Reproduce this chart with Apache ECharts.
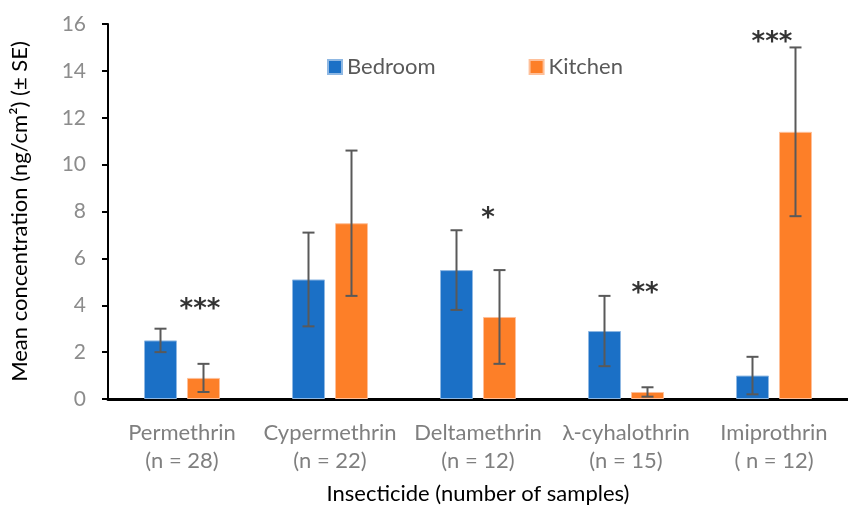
<!DOCTYPE html>
<html>
<head>
<meta charset="utf-8">
<script src="https://cdn.jsdelivr.net/npm/echarts@6/dist/echarts.min.js"></script>
<style>
  html, body { margin: 0; padding: 0; background: #fff; }
  #chart { width: 848px; height: 506px; }
</style>
</head>
<body>
<div id="chart"></div>
<script>
// data
const categories = ['Permethrin\n(n = 28)', 'Cypermethrin\n(n = 22)', 'Deltamethrin\n(n = 12)', 'λ-cyhalothrin\n(n = 15)', 'Imiprothrin\n( n = 12)']
const bedroom = [2.5, 5.1, 5.5, 2.9, 1.0]
const bedroomSE = [0.5, 2.0, 1.7, 1.5, 0.8]
const kitchen = [0.9, 7.5, 3.5, 0.3, 11.4]
const kitchenSE = [0.6, 3.1, 2.0, 0.2, 3.6]
const stars = ['***', '', '*', '**', '***']
const starY = [4.0, null, 7.9, 4.7, 15.4]
const yTicks = [0, 2, 4, 6, 8, 10, 12, 14, 16]

// 星号的水平偏移（像素）
const starDx = [18, 0, 10, 19, -2]

const BLUE = '#1b70c6'
const ORANGE = '#fd7f28'
const ERR = '#595959'
const FONT = 'Lato'
const BAR_W = 33
const BAR_GAP = 10

const chart = echarts.init(document.getElementById('chart'))

// 误差线
const errorSeries = (means, ses, dx) => ({
  type: 'custom',
  z: 5,
  silent: true,
  data: means.map((m, i) => [i, m - ses[i], m + ses[i]]),
  renderItem: (params, api) => {
    const lo = api.coord([api.value(0), api.value(1)])
    const hi = api.coord([api.value(0), api.value(2)])
    const x = lo[0] + dx
    const cap = 6
    const style = { stroke: ERR, lineWidth: 2 }
    return {
      type: 'group',
      children: [
        { type: 'line', shape: { x1: x, y1: lo[1], x2: x, y2: hi[1] }, style },
        { type: 'line', shape: { x1: x - cap, y1: lo[1], x2: x + cap, y2: lo[1] }, style },
        { type: 'line', shape: { x1: x - cap, y1: hi[1], x2: x + cap, y2: hi[1] }, style }
      ]
    }
  }
})

const offset = (BAR_W + BAR_GAP) / 2

const option = {
  animation: false,
  textStyle: { fontFamily: FONT },
  grid: { left: 108, right: 0, top: 24, bottom: 107, containLabel: false, outerBoundsMode: 'none' },
  legend: {
    left: 322,
    top: 51,
    itemWidth: 14,
    itemHeight: 14,
    itemGap: 93,
    icon: 'rect',
    textStyle: { color: '#595959', fontSize: 22, fontFamily: FONT },
    data: ['Bedroom', 'Kitchen']
  },
  xAxis: {
    type: 'category',
    data: categories,
    name: 'Insecticide (number of samples)',
    nameLocation: 'middle',
    nameGap: 84,
    nameTextStyle: { color: '#000', fontSize: 22, fontFamily: FONT },
    axisLine: { lineStyle: { color: '#000', width: 3 } },
    axisTick: { show: false },
    axisLabel: { interval: 0, hideOverlap: false, color: '#7f7f7f', fontSize: 22, lineHeight: 28, margin: 20, fontFamily: FONT }
  },
  yAxis: {
    type: 'value',
    min: 0,
    max: 16,
    interval: 2,
    name: 'Mean concentration (ng/cm²) (± SE)',
    nameLocation: 'middle',
    nameGap: 77,
    nameTextStyle: { color: '#000', fontSize: 22, fontFamily: FONT },
    axisLine: { show: true, lineStyle: { color: '#000', width: 2 } },
    axisTick: { show: true, inside: false, length: 6, lineStyle: { color: '#000', width: 2 } },
    axisLabel: { color: '#8c8c8c', fontSize: 21, margin: 22, fontFamily: FONT,
      formatter: v => yTicks.includes(v) ? String(v) : '' },
    splitLine: { show: false }
  },
  series: [
    {
      name: 'Bedroom',
      type: 'bar',
      barWidth: BAR_W,
      barGap: (BAR_GAP / BAR_W * 100) + '%',
      itemStyle: { color: BLUE, borderColor: '#8fb8e3', borderWidth: 1 },
      data: bedroom
    },
    {
      name: 'Kitchen',
      type: 'bar',
      barWidth: BAR_W,
      itemStyle: { color: ORANGE, borderColor: '#fec09a', borderWidth: 1 },
      data: kitchen
    },
    errorSeries(bedroom, bedroomSE, -offset),
    errorSeries(kitchen, kitchenSE, offset),
    {
      type: 'scatter',
      symbolSize: 0,
      silent: true,
      z: 6,
      data: starY.map((y, i) => ({
        value: [i, y],
        label: { offset: [starDx[i], 5] }
      })),
      label: {
        show: true,
        position: 'inside',
        color: '#000',
        fontSize: 26,
        fontWeight: 'bold',
        fontFamily: 'DejaVu Sans',
        formatter: p => stars[p.dataIndex]
      }
    }
  ]
}

chart.setOption(option)
</script>
</body>
</html>
